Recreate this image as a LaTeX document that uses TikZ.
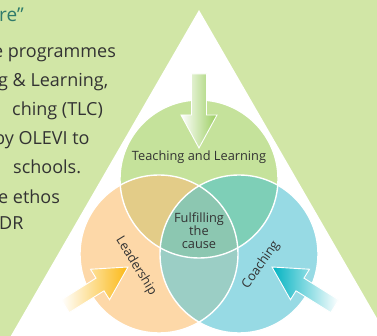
\documentclass[tikz,border=0pt]{standalone}
\usepackage{fontspec}
\setmainfont{Open Sans}
\usepackage{tikz}

\definecolor{bggreen}{HTML}{D1E6A6}
\definecolor{topgreen}{HTML}{C5E29B}
\definecolor{leftorange}{HTML}{FDD8A8}
\definecolor{rightblue}{HTML}{97DAE4}
\definecolor{tlmix}{HTML}{E3CC88}
\definecolor{trmix}{HTML}{7ECFB7}
\definecolor{lrmix}{HTML}{9BCEC5}
\definecolor{allmix}{HTML}{8CC7B1}
\definecolor{arrowgreen}{HTML}{9ACD5E}
\definecolor{arroworange}{HTML}{FBB814}
\definecolor{arrowteal}{HTML}{00B2C1}
\definecolor{textgrey}{HTML}{333333}
\definecolor{titleteal}{HTML}{2F7B6B}

\begin{document}
\begin{tikzpicture}[x=1pt,y=-1pt,
    body/.style={anchor=base west, inner sep=0pt, text=textgrey,
      font=\fontsize{18}{18}\selectfont},
    venntext/.style={inner sep=0pt, text=textgrey,
      font=\fontsize{12.8}{13}\selectfont},
    ring/.style={draw=white, line width=1.4pt},
    fatarrow/.style={draw=white, line width=0.9pt, line join=miter}]
  \useasboundingbox (0,0) rectangle (377,336);
  \fill[bggreen] (0,0) rectangle (377,336);

  % text running in from the left
  \node[body, text=titleteal, font=\fontsize{19}{19}\selectfont] (title) at (-1,22) {re”};
  \node[body] (line1) at (-7,58) {e programmes};
  \node[body] (line2) at (-2,87) {g \& Learning,};
  \node[body] (line3) at (12,116) {ching (TLC)};
  \node[body] (line4) at (-6,145) {by OLEVI to};
  \node[body] (line5) at (13,174) {schools.};
  \node[body] (line6) at (-2,204) {e ethos};
  \node[body] (line7) at (-1,230) {DR};

  % white triangle
  \fill[white] (199,10) -- (393,346) -- (5,346) -- cycle;

  % three circles
  \coordinate (ctop) at (199,179);
  \coordinate (cleft) at (159,254);
  \coordinate (cright) at (239,254);
  \fill[topgreen] (ctop) circle (79pt);
  \fill[leftorange] (cleft) circle (79pt);
  \fill[rightblue] (cright) circle (79pt);
  \begin{scope}
    \clip (ctop) circle (79pt);
    \fill[tlmix] (cleft) circle (79pt);
    \fill[trmix] (cright) circle (79pt);
  \end{scope}
  \begin{scope}
    \clip (cleft) circle (79pt);
    \fill[lrmix] (cright) circle (79pt);
    \clip (ctop) circle (79pt);
    \fill[allmix] (cright) circle (79pt);
  \end{scope}
  \draw[ring] (ctop) circle (79pt);
  \draw[ring] (cleft) circle (79pt);
  \draw[ring] (cright) circle (79pt);

  % arrows pointing in
  \begin{scope}[shift={(199,148)}, rotate=-90]
    \shade[fatarrow, left color=white, right color=arrowgreen]
      (0,0) -- (-33,18) -- (-33,7.5) -- (-74,7.5) -- (-74,-7.5) -- (-33,-7.5) -- (-33,-18) -- cycle;
  \end{scope}
  \begin{scope}[shift={(128,267)}, rotate=32]
    \shade[fatarrow, left color=white, right color=arroworange]
      (0,0) -- (-33,18) -- (-33,7.5) -- (-74,7.5) -- (-74,-7.5) -- (-33,-7.5) -- (-33,-18) -- cycle;
  \end{scope}
  \begin{scope}[shift={(272,267)}, rotate=148]
    % shading comes out flipped at this angle, so the colours are swapped
    \shade[fatarrow, left color=arrowteal, right color=white]
      (0,0) -- (-33,18) -- (-33,7.5) -- (-74,7.5) -- (-74,-7.5) -- (-33,-7.5) -- (-33,-18) -- cycle;
  \end{scope}

  % labels
  \node[venntext] (teach) at (199,157) {Teaching and Learning};
  \node[venntext, align=center] (cause) at (199,231) {Fulfilling\\the\\cause};
  \node[venntext, rotate=-58.5] (lead) at (136,266) {Leadership};
  \node[venntext, rotate=55] (coach) at (261,265) {Coaching};
\end{tikzpicture}
\end{document}
